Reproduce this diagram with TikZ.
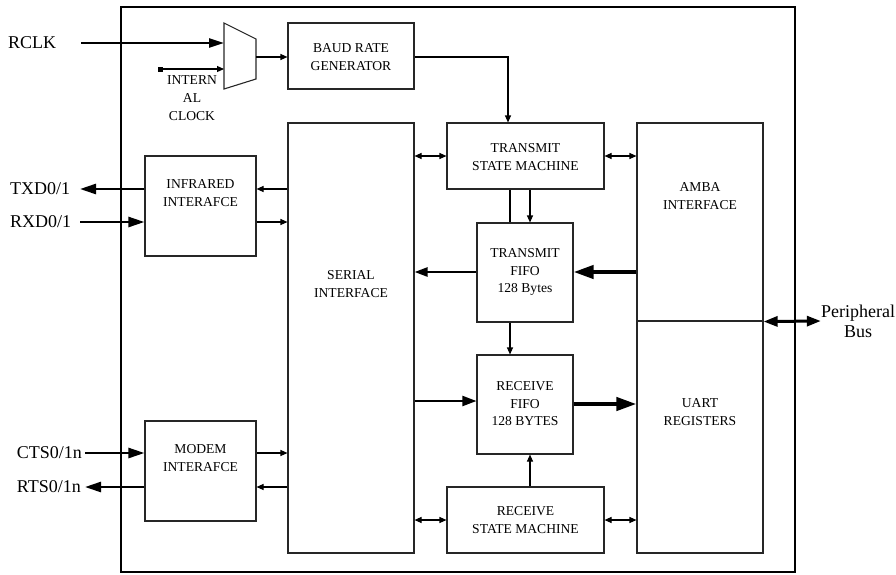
\documentclass[tikz,border=0pt]{standalone}
\usepackage{fontspec}
\setmainfont{Liberation Serif}
\usetikzlibrary{arrows.meta,calc}
\begin{document}
\begin{tikzpicture}[x=1pt,y=-1pt,
  box/.style={draw=black!85,line width=1.1pt,inner sep=0pt},
  lbl/.style={font=\fontsize{13.6}{17.5}\selectfont,align=center,inner sep=0pt},
  sig/.style={font=\fontsize{18}{20}\selectfont,inner sep=0pt},
  thinarr/.style={line width=1.1pt,-{Triangle[length=7pt,width=6pt]}},
  thinbi/.style={line width=1.1pt,{Triangle[length=7pt,width=6pt]}-{Triangle[length=7pt,width=6pt]}},
  medarr/.style={line width=2pt,-{Triangle[length=14pt,width=10pt]}},
  pinarr/.style={line width=2.5pt,-{Triangle[length=16pt,width=10pt]}},
  fatarr/.style={line width=4pt,-{Triangle[length=20pt,width=13pt]}}]
\useasboundingbox (0,0) rectangle (896,574);

% chip outline
\node[draw,line width=2pt,minimum width=674pt,minimum height=565pt,inner sep=0pt] (chip) at (458,289.5) {};

% blocks
\node[box,minimum width=126pt,minimum height=66pt] (baud) at (351,56) {};
\node[box,minimum width=157pt,minimum height=66pt] (tsm) at (525.5,156) {};
\node[box,minimum width=126pt,minimum height=430pt] (serial) at (351,338) {};
\node[box,minimum width=111pt,minimum height=100pt] (ir) at (200.5,206) {};
\node[box,minimum width=111pt,minimum height=100pt] (modem) at (200.5,471) {};
\node[box,minimum width=96pt,minimum height=99pt] (tfifo) at (525,272.5) {};
\node[box,minimum width=96pt,minimum height=99pt] (rfifo) at (525,404.5) {};
\node[box,minimum width=157pt,minimum height=66pt] (rsm) at (525.5,520) {};
\node[box,minimum width=126pt,minimum height=198pt] (amba) at (700,222) {};
\node[box,minimum width=126pt,minimum height=232pt] (uart) at (700,437) {};

% clock multiplexer
\draw[box] (224,23) -- (256,39) -- (256,79) -- (224,89) -- cycle;
\coordinate (muxA) at (224,43);
\coordinate (muxB) at (224,69);
\coordinate (muxO) at (256,57);
\coordinate (clkint) at (160,69);
\fill (clkint) ++(-2.5,-2.5) rectangle ++(5,5);

% block texts
\node[lbl] (baudt) at (351,57) {BAUD RATE\\GENERATOR};
\node[lbl] (tsmt) at (525.5,157) {TRANSMIT\\STATE MACHINE};
\node[lbl] (irt) at (200.5,193) {INFRARED\\INTERAFCE};
\node[lbl] (serialt) at (351,284) {SERIAL\\INTERFACE};
\node[lbl] (ambat) at (700,196) {AMBA\\INTERFACE};
\node[lbl] (uartt) at (700,412) {UART\\REGISTERS};
\node[lbl] (modemt) at (200.5,458) {MODEM\\INTERAFCE};
\node[lbl] (tfifot) at (525,272) {TRANSMIT\\FIFO\\128 Bytes};
\node[lbl] (rfifot) at (525,404) {RECEIVE\\FIFO\\128 BYTES};
\node[lbl] (rsmt) at (525.5,520) {RECEIVE\\STATE MACHINE};
\node[lbl,font=\fontsize{13.6}{18}\selectfont] (clkt) at (192,98) {INTERN\\AL\\CLOCK};

% external signal names
\node[sig,anchor=west] (rclk) at (8,43) {RCLK};
\node[sig,anchor=west] (txd) at (10,189) {TXD0/1};
\node[sig,anchor=west] (rxd) at (10,222) {RXD0/1};
\node[sig,anchor=east] (cts) at (82,453) {CTS0/1n};
\node[sig,anchor=east] (rts) at (81,487) {RTS0/1n};
\node[sig,align=center] (pbus) at (858,321) {Peripheral\\Bus};

% clock path
\draw[pinarr,-{Triangle[length=15pt,width=9pt]}] (81,43) -- (muxA);
\draw[thinarr] (clkint) -- (muxB);
\draw[thinarr] (muxO) -- (baud.west |- muxO);
\draw[thinarr] (baud.east |- 0,57) -- (508,57) -- (tsm.north -| 508,0);
\draw[line width=1.1pt] (tsm.south -| 510,0) -- (tfifo.north -| 510,0);

% infrared and modem pins
\draw[pinarr] (ir.west |- 0,189) -- (80,189);
\draw[pinarr] (80,222) -- (ir.west |- 0,222);
\draw[pinarr] ($(cts.east)+(3,0)$) -- (modem.west |- 0,453);
\draw[pinarr] (modem.west |- 0,487) -- ($(rts.east)+(4,0)$);

% serial interface links
\draw[thinarr] (serial.west |- 0,189) -- (ir.east |- 0,189);
\draw[thinarr] (ir.east |- 0,222) -- (serial.west |- 0,222);
\draw[thinarr] (modem.east |- 0,453) -- (serial.west |- 0,453);
\draw[thinarr] (serial.west |- 0,487) -- (modem.east |- 0,487);

% state machine handshakes
\draw[thinbi] (serial.east |- 0,156) -- (tsm.west);
\draw[thinbi] (tsm.east) -- (amba.west |- 0,156);
\draw[thinbi] (serial.east |- 0,520) -- (rsm.west);
\draw[thinbi] (rsm.east) -- (uart.west |- 0,520);

% data paths
\draw[thinarr] (tsm.south -| 530,0) -- (tfifo.north -| 530,0);
\draw[thinarr] (tfifo.south -| 510,0) -- (rfifo.north -| 510,0);
\draw[thinarr] (rsm.north -| 530,0) -- (rfifo.south -| 530,0);
\draw[line width=2.5pt,-{Triangle[length=13pt,width=9pt]}] (tfifo.west |- 0,272) -- (serial.east |- 0,272);
\draw[fatarr] (amba.west |- 0,272) -- (tfifo.east |- 0,272);
\draw[medarr] (serial.east |- 0,401) -- (rfifo.west |- 0,401);
\draw[fatarr] (rfifo.east |- 0,404) -- (uart.west |- 0,404);

% peripheral bus
\draw[line width=3pt,{Triangle[length=14pt,width=10pt]}-{Triangle[length=14pt,width=10pt]}] (amba.south east) -- (pbus.west |- 0,321);
\end{tikzpicture}
\end{document}
